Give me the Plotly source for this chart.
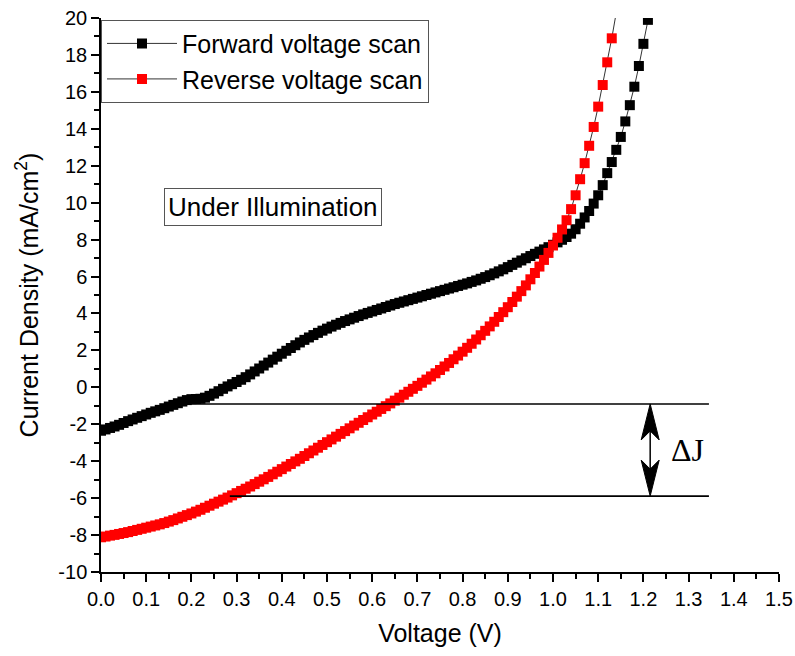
import plotly.graph_objects as go

# ---------------- data ----------------
voltage_fwd = [round(i * 0.01, 2) for i in range(0, 123)]
current_fwd = [
    -2.35, -2.28, -2.20, -2.12, -2.03, -1.93, -1.83, -1.74, -1.65, -1.56,
    -1.47, -1.38, -1.30, -1.22, -1.13, -1.04, -0.95, -0.86, -0.77, -0.69,
    -0.64, -0.63, -0.62, -0.56, -0.46, -0.34, -0.21, -0.08, 0.05, 0.17,
    0.29, 0.41, 0.55, 0.70, 0.86, 1.02, 1.18, 1.34, 1.50, 1.66,
    1.82, 1.98, 2.13, 2.28, 2.43, 2.57, 2.70, 2.83, 2.95, 3.07,
    3.18, 3.29, 3.39, 3.49, 3.59, 3.68, 3.77, 3.86, 3.95, 4.03,
    4.11, 4.19, 4.27, 4.35, 4.43, 4.51, 4.58, 4.65, 4.72, 4.79,
    4.86, 4.93, 5.00, 5.07, 5.14, 5.21, 5.28, 5.35, 5.42, 5.49,
    5.56, 5.63, 5.71, 5.79, 5.88, 5.97, 6.07, 6.17, 6.28, 6.39,
    6.51, 6.63, 6.75, 6.87, 6.99, 7.11, 7.23, 7.35, 7.47, 7.59,
    7.72, 7.85, 7.99, 8.14, 8.32, 8.56, 8.86, 9.20, 9.55, 9.95,
    10.40, 10.95, 11.60, 12.20, 12.86, 13.56, 14.40, 15.28, 16.28, 17.40,
    18.60, 19.90, 21.10,
]

voltage_rev = [round(i * 0.01, 2) for i in range(0, 115)]
current_rev = [
    -8.12, -8.08, -8.03, -7.99, -7.94, -7.89, -7.84, -7.78, -7.72, -7.66,
    -7.60, -7.54, -7.48, -7.42, -7.35, -7.27, -7.19, -7.10, -7.01, -6.92,
    -6.83, -6.73, -6.63, -6.52, -6.41, -6.30, -6.19, -6.08, -5.97, -5.85,
    -5.73, -5.61, -5.49, -5.37, -5.24, -5.11, -4.98, -4.85, -4.71, -4.57,
    -4.43, -4.29, -4.15, -4.01, -3.87, -3.72, -3.57, -3.42, -3.27, -3.12,
    -2.97, -2.82, -2.67, -2.52, -2.37, -2.22, -2.07, -1.92, -1.77, -1.62,
    -1.47, -1.32, -1.17, -1.02, -0.87, -0.72, -0.56, -0.40, -0.24, -0.08,
    0.08, 0.25, 0.42, 0.59, 0.76, 0.94, 1.13, 1.32, 1.52, 1.72,
    1.93, 2.14, 2.36, 2.59, 2.82, 3.06, 3.30, 3.55, 3.81, 4.07,
    4.34, 4.62, 4.91, 5.21, 5.52, 5.85, 6.19, 6.54, 6.90, 7.28,
    7.68, 8.10, 8.55, 9.05, 9.65, 10.40, 11.27, 12.14, 13.08, 14.10,
    15.20, 16.37, 17.60, 18.90, 20.30,
]

series_names = ["Forward voltage scan", "Reverse voltage scan"]
series_colors = ["#000000", "#ff0000"]

x_ticks = [round(i * 0.1, 1) for i in range(0, 16)]
y_ticks = list(range(-10, 21, 2))

# Delta-J construction values
dj_upper = -0.9
dj_lower = -5.89
dj_upper_start = 0.20
dj_lower_start = 0.285
dj_end = 1.345
dj_arrow_x = 1.215
dj_label_x = 1.297

SANS = "Liberation Sans, Arial, sans-serif"

# ---------------- figure ----------------
fig = go.Figure()

for v, j, name, col in [
    (voltage_fwd, current_fwd, series_names[0], series_colors[0]),
    (voltage_rev, current_rev, series_names[1], series_colors[1]),
]:
    fig.add_trace(go.Scatter(
        x=v, y=j, name=name, mode="lines+markers",
        line=dict(color="#333333", width=1),
        marker=dict(symbol="square", size=10, color=col, line=dict(width=0)),
    ))

line_style = dict(color="black", width=1.6)
fig.add_shape(type="line", x0=dj_upper_start, x1=dj_end, y0=dj_upper, y1=dj_upper,
              xref="x", yref="y", line=line_style)
fig.add_shape(type="line", x0=dj_lower_start, x1=dj_end, y0=dj_lower, y1=dj_lower,
              xref="x", yref="y", line=line_style)
fig.add_shape(type="line", x0=dj_arrow_x, x1=dj_arrow_x, y0=dj_upper - 0.5, y1=dj_lower + 0.5,
              xref="x", yref="y", line=dict(color="black", width=1.5))
# arrowheads (pixel-sized paths anchored at the arrow ends)
fig.add_shape(type="path", xref="x", yref="y", xsizemode="pixel", ysizemode="pixel",
              xanchor=dj_arrow_x, yanchor=dj_upper,
              path="M0,0 L-9,-36 L0,-27 L9,-36 Z", fillcolor="black", line=dict(color="black", width=1))
fig.add_shape(type="path", xref="x", yref="y", xsizemode="pixel", ysizemode="pixel",
              xanchor=dj_arrow_x, yanchor=dj_lower,
              path="M0,0 L-9,36 L0,27 L9,36 Z", fillcolor="black", line=dict(color="black", width=1))

fig.add_annotation(x=dj_label_x, y=(dj_upper + dj_lower) / 2, xref="x", yref="y",
                   text="ΔJ", showarrow=False,
                   font=dict(family="Liberation Serif, Times New Roman, serif", size=32, color="black"))

fig.add_annotation(x=0.139, y=9.75, xref="x", yref="y", xanchor="left", yanchor="middle",
                   text="Under Illumination", showarrow=False,
                   font=dict(family=SANS, size=26, color="black"),
                   bordercolor="#555555", borderwidth=1, borderpad=3, bgcolor="white")

axis_common = dict(
    showline=True, linecolor="black", linewidth=1.5,
    ticks="outside", ticklen=8, tickwidth=1.5, tickcolor="black",
    showgrid=False, zeroline=False, mirror=False, automargin=False,
    tickfont=dict(family=SANS, size=20, color="black"),
)

fig.update_xaxes(
    range=[0, 1.5], tickmode="array", tickvals=x_ticks,
    ticktext=[f"{t:.1f}" for t in x_ticks],
    minor=dict(dtick=0.05, tick0=0, ticks="outside", ticklen=5, tickwidth=1.5, tickcolor="black"),
    title=dict(text="Voltage (V)", standoff=16,
               font=dict(family=SANS, size=25, color="black")),
    **axis_common,
)
fig.update_yaxes(
    range=[-10, 20], tickmode="array", tickvals=y_ticks,
    ticktext=[str(t) for t in y_ticks],
    minor=dict(dtick=1, tick0=0, ticks="outside", ticklen=5, tickwidth=1.5, tickcolor="black"),
    title=dict(text="Current Density (mA/cm<sup>2</sup>)", standoff=13,
               font=dict(family=SANS, size=25, color="black")),
    **axis_common,
)

fig.update_layout(
    width=795, height=656,
    margin=dict(l=101, r=16, t=18, b=84),
    paper_bgcolor="white", plot_bgcolor="white",
    showlegend=True,
    legend=dict(x=0.0, y=0.997, xanchor="left", yanchor="top",
                bgcolor="white", bordercolor="#555555", borderwidth=1,
                font=dict(family=SANS, size=25, color="black"),
                itemwidth=70, tracegroupgap=0),
    font=dict(family=SANS, color="black"),
)

fig.write_html("out.html")
